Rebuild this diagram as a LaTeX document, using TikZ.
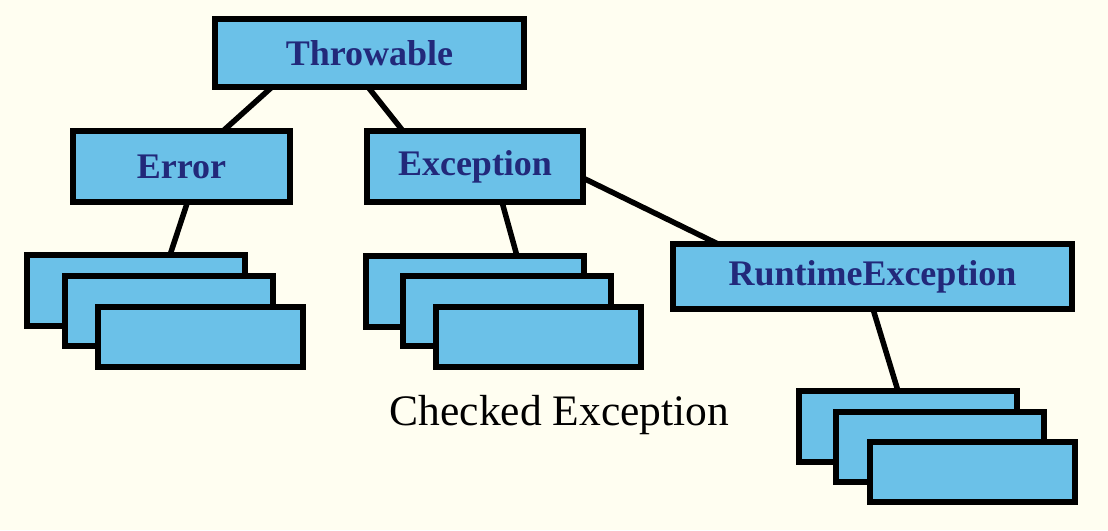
\documentclass[tikz,border=0pt]{standalone}
\usepackage{fontspec}
\setmainfont{Liberation Serif}
\usetikzlibrary{positioning}
\definecolor{bgcream}{HTML}{FFFEF1}
\definecolor{boxblue}{HTML}{6BC1E8}
\definecolor{labelnavy}{HTML}{22297A}

\begin{document}
\begin{tikzpicture}[
  x=1pt, y=-1pt,
  box/.style={draw=black, line width=6pt, fill=boxblue, inner sep=0pt,
              outer sep=0pt, text=labelnavy,
              font=\fontsize{36}{40}\selectfont\bfseries},
  back/.style={box, minimum width=218pt, minimum height=71pt},
  mid/.style={box, minimum width=208pt, minimum height=70pt},
  front/.style={box, minimum width=205pt, minimum height=60pt},
  link/.style={line width=5.5pt}]

  \fill[bgcream] (0,0) rectangle (1108,530);
  \useasboundingbox (0,0) rectangle (1108,530);

  % class boxes
  \node[box, minimum width=309pt, minimum height=68pt]
    (throw) at (369.5,53) {Throwable};
  \node[box, minimum width=217pt, minimum height=71pt]
    (err) at (181.5,166.5) {Error};
  \node[box, minimum width=216pt, minimum height=71pt]
    (exc) at (475,166.5) {Exception};
  \node[box, minimum width=399pt, minimum height=65pt]
    (rt) at (872.5,276.5) {RuntimeException};

  % subclass stacks
  \node[back]  (e1) at (136,290.5) {};
  \node[mid]   (e2) at (169,311) {};
  \node[front] (e3) at (200.5,337) {};

  \node[back]  (x1) at (475,291.5) {};
  \node[mid]   (x2) at (507,311) {};
  \node[front] (x3) at (538.5,337) {};

  \node[back]  (r1) at (908,426.5) {};
  \node[mid]   (r2) at (940,447) {};
  \node[front] (r3) at (972.5,472) {};

  \node[anchor=base, font=\fontsize{43.5}{48}\selectfont]
    (checked) at (559.5,425) {Checked Exception};

  % links
  \draw[link] ([xshift=-97.5pt]throw.south) -- ([xshift=41.5pt]err.north);
  \draw[link] ([xshift=-1.5pt]throw.south) -- ([xshift=-72pt]exc.north);
  \draw[link] ([xshift=6pt]err.south) -- ([xshift=34pt]e1.north);
  \draw[link] ([xshift=27pt]exc.south) -- ([xshift=42pt]x1.north);
  \draw[link] ([yshift=-11.5pt]exc.east) -- ([xshift=-154.5pt]rt.north);
  \draw[link] ([xshift=0.5pt]rt.south) -- ([xshift=-10pt]r1.north);
\end{tikzpicture}
\end{document}
